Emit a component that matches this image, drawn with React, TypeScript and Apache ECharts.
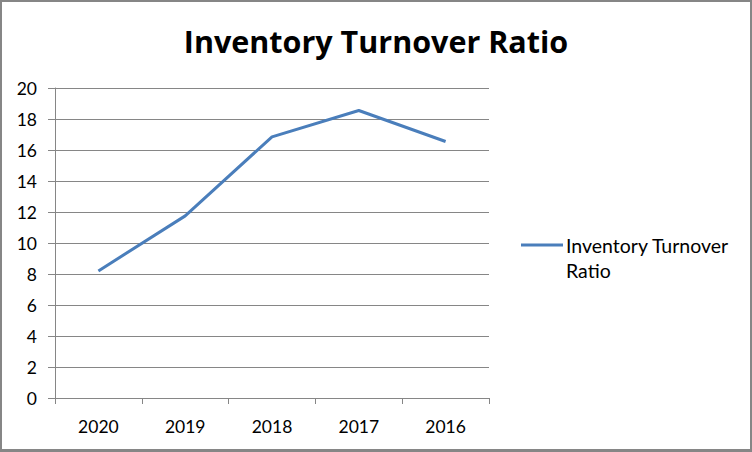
import React, { useEffect, useRef } from "react";
import * as echarts from "echarts";

const title = "Inventory Turnover Ratio";
const categories = ["2020", "2019", "2018", "2017", "2016"];
const seriesName = "Inventory Turnover Ratio";
const legendLines = ["Inventory Turnover", "Ratio"];
const values = [8.2, 11.75, 16.85, 18.55, 16.55];
const yMin = 0;
const yMax = 20;
const yStep = 2;

const FONT = "Lato, 'Open Sans', sans-serif";

export default function App() {
  const ref = useRef<HTMLDivElement>(null);
  useEffect(() => {
    document.body.style.margin = "0";
    const chart = echarts.init(ref.current!, null, { renderer: "svg" });
    chart.setOption({
      animation: false,
      backgroundColor: "#ffffff",
      title: {
        text: title,
        left: "center",
        top: 20,
        textStyle: { fontFamily: "'Open Sans', sans-serif", fontWeight: "bold", fontSize: 30.5, color: "#000" },
      },
      grid: { left: 55, right: 263, top: 88, bottom: 54 },
      xAxis: {
        type: "category",
        data: categories,
        boundaryGap: true,
        axisLine: { lineStyle: { color: "#868686", width: 1 } },
        axisTick: { show: true, length: 6, alignWithLabel: false, lineStyle: { color: "#868686" } },
        axisLabel: { fontFamily: FONT, fontSize: 17.5, color: "#000", margin: 19 },
        splitLine: { show: false },
      },
      yAxis: {
        type: "value",
        min: yMin,
        max: yMax,
        interval: yStep,
        axisLine: { show: true, lineStyle: { color: "#868686", width: 1 } },
        axisTick: { show: true, length: 7, lineStyle: { color: "#868686" } },
        axisLabel: { fontFamily: FONT, fontSize: 17.5, color: "#000", margin: 18 },
        splitLine: { show: true, lineStyle: { color: "#868686", width: 1 } },
      },
      series: [
        {
          name: seriesName,
          type: "line",
          data: values,
          symbol: "none",
          lineStyle: { color: "#4a7ebb", width: 3 },
          itemStyle: { color: "#4a7ebb" },
        },
      ],
      graphic: [
        {
          type: "line",
          shape: { x1: 521, y1: 245, x2: 563, y2: 245 },
          style: { stroke: "#4a7ebb", lineWidth: 3 },
        },
        {
          type: "text",
          x: 566,
          y: 233,
          style: {
            text: legendLines.join("\n"),
            fontFamily: FONT,
            fontSize: 19.5,
            lineHeight: 25,
            fill: "#000",
          },
        },
      ],
    });
    return () => chart.dispose();
  }, []);
  return (
    <div style={{ position: "absolute", left: 0, top: 0, width: 752, height: 452 }}>
      <div ref={ref} style={{ position: "absolute", left: 0, top: 0, width: 752, height: 452 }} />
      <div
        style={{
          position: "absolute",
          left: 0,
          top: 0,
          width: 752,
          height: 452,
          boxSizing: "border-box",
          borderStyle: "solid",
          borderColor: "#868686",
          borderWidth: "2px 2px 3px 2px",
          pointerEvents: "none",
        }}
      />
    </div>
  );
}
